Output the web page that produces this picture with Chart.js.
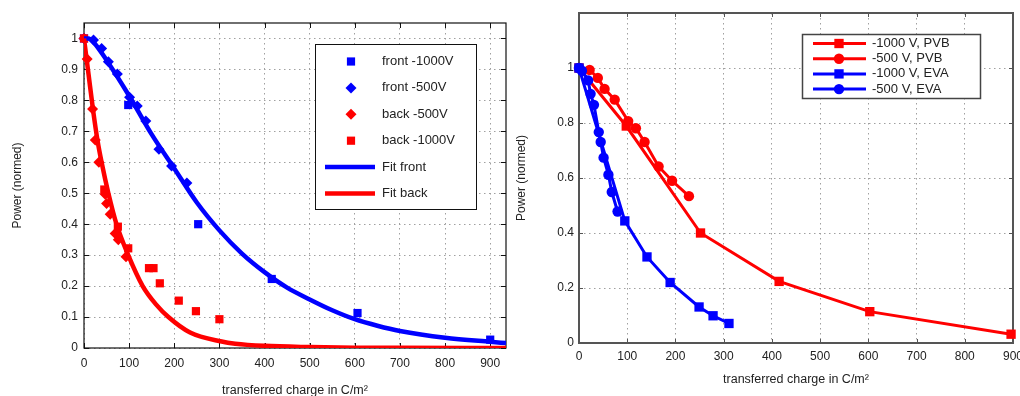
<!DOCTYPE html>
<html>
<head>
<meta charset="utf-8">
<script src="https://cdn.jsdelivr.net/npm/chart.js@4.4.0/dist/chart.umd.min.js"></script>
<style>
  html, body { margin: 0; padding: 0; background: #fff; overflow: hidden; }
  #left { position: absolute; left: 0; top: 0; width: 512px; height: 399px; }
  #right { position: absolute; left: 514px; top: 0; width: 506px; height: 396px; }
</style>
</head>
<body>
<div id="left"><canvas id="leftChart"></canvas></div>
<div id="right"><canvas id="rightChart"></canvas></div>
<script>
/*
 DATA - left plot (measurements + fits)
*/
const frontHvX = [0, 98, 253, 416, 606, 900];
const frontHvY = [1, 0.785, 0.40, 0.223, 0.113, 0.027];

const frontLvX = [0, 21, 39, 54, 74, 101, 118, 137, 166, 194, 228];
const frontLvY = [1, 0.995, 0.968, 0.925, 0.885, 0.81, 0.782, 0.733, 0.642, 0.588, 0.533];

const backLvX = [0, 7, 19, 25, 33, 47, 50, 58, 69, 76, 93];
const backLvY = [1, 0.934, 0.772, 0.672, 0.6, 0.497, 0.467, 0.432, 0.37, 0.35, 0.295];

const backHvX = [0, 45, 75, 98, 144, 154, 168, 210, 248, 300];
const backHvY = [1, 0.512, 0.392, 0.322, 0.258, 0.258, 0.209, 0.153, 0.119, 0.093];

const fitFrontX = [0, 10, 20, 50, 100, 150, 200, 250, 300, 350, 400, 450, 500, 550, 600, 650, 700, 800, 900, 935];
const fitFrontY = [1, 1, 0.99, 0.93, 0.815, 0.69, 0.58, 0.47, 0.38, 0.305, 0.245, 0.195, 0.157, 0.122, 0.093, 0.072, 0.055, 0.033, 0.02, 0.016];

const fitBackX = [0, 10, 20, 30, 39, 54, 72, 98, 130, 160, 187, 235, 305, 335, 400, 500, 600, 700, 935];
const fitBackY = [1, 0.885, 0.77, 0.67, 0.6, 0.5, 0.4, 0.3, 0.2, 0.14, 0.1, 0.05, 0.021, 0.014, 0.007, 0.003, 0.001, 0.0005, 0];

/*
 DATA - right plot (PVB / EVA)
*/
const pvbHvX = [0, 98, 252, 415, 603, 896];
const pvbHvY = [1, 0.789, 0.40, 0.224, 0.114, 0.032];

const pvbLvX = [0, 22, 39, 53, 74, 102, 118, 136, 165, 193, 228];
const pvbLvY = [1, 0.993, 0.964, 0.924, 0.885, 0.807, 0.781, 0.731, 0.642, 0.59, 0.534];

const evaHvX = [0, 95, 141, 189, 249, 278, 311];
const evaHvY = [1, 0.444, 0.313, 0.22, 0.131, 0.099, 0.071];

const evaLvX = [0, 6, 19, 24, 31, 41, 45, 51, 61, 68, 80];
const evaLvY = [1, 0.99, 0.955, 0.906, 0.866, 0.767, 0.731, 0.674, 0.612, 0.549, 0.478];

const leftLabels = ["front -1000V", "front -500V", "back -500V", "back -1000V", "Fit front", "Fit back"];
const rightLabels = ["-1000 V, PVB", "-500 V, PVB", "-1000 V, EVA", "-500 V, EVA"];

const xTitle = "transferred charge in C/m\u00b2";
const yTitle = "Power (normed)";

const RED = "#ff0000";
const BLUE = "#0000ff";
const FONT = "'Liberation Sans', Arial, sans-serif";

function pts(xs, ys) {
  return xs.map((x, i) => ({ x: x, y: ys[i] }));
}

/*
 MARKERS (used by the legend box)
*/
function marker(ctx, style, x, y, r) {
  ctx.beginPath();
  if (style === "rect") {
    const s = r * Math.SQRT1_2;
    ctx.rect(x - s, y - s, 2 * s, 2 * s);
  } else if (style === "rectRot") {
    ctx.moveTo(x, y - r);
    ctx.lineTo(x + r, y);
    ctx.lineTo(x, y + r);
    ctx.lineTo(x - r, y);
    ctx.closePath();
  } else {
    ctx.arc(x, y, r, 0, Math.PI * 2);
  }
  ctx.fill();
}

/*
 FRAME + INNER TICKS
*/
const framePlugin = {
  id: "frame",
  beforeDatasetsDraw(chart, args, o) {
    const { ctx, chartArea: a, scales } = chart;
    ctx.save();
    ctx.strokeStyle = o.color;
    ctx.lineWidth = o.width;
    ctx.strokeRect(a.left, a.top, a.right - a.left, a.bottom - a.top);
    ctx.lineWidth = 1;
    ctx.beginPath();
    scales.x.ticks.forEach(t => {
      const px = Math.round(scales.x.getPixelForValue(t.value)) + 0.5;
      ctx.moveTo(px, a.bottom); ctx.lineTo(px, a.bottom - o.len);
      ctx.moveTo(px, a.top); ctx.lineTo(px, a.top + o.len);
    });
    scales.y.ticks.forEach(t => {
      const py = Math.round(scales.y.getPixelForValue(t.value)) + 0.5;
      ctx.moveTo(a.left, py); ctx.lineTo(a.left + o.len, py);
      ctx.moveTo(a.right, py); ctx.lineTo(a.right - o.len, py);
    });
    ctx.stroke();
    ctx.restore();
  }
};

/*
 LEGEND BOX
*/
const boxLegend = {
  id: "boxLegend",
  afterDraw(chart, args, o) {
    const ctx = chart.ctx;
    ctx.save();
    ctx.fillStyle = "#fff";
    ctx.fillRect(o.x, o.y, o.w, o.h);
    ctx.strokeStyle = o.border;
    ctx.lineWidth = o.borderWidth;
    ctx.strokeRect(o.x + 0.5, o.y + 0.5, o.w, o.h);
    ctx.font = o.font;
    ctx.textBaseline = "middle";
    chart.data.datasets.forEach((ds, i) => {
      const y = o.y + o.first + i * o.row;
      if (ds.showLine) {
        ctx.strokeStyle = ds.borderColor;
        ctx.lineWidth = ds.borderWidth;
        ctx.beginPath();
        ctx.moveTo(o.lineX0, y);
        ctx.lineTo(o.lineX1, y);
        ctx.stroke();
      }
      if (ds.pointRadius > 0) {
        ctx.fillStyle = ds.backgroundColor;
        marker(ctx, ds.pointStyle, o.markX, y, ds.pointRadius);
      }
      ctx.fillStyle = "#222";
      ctx.fillText(ds.label, o.textX, y);
    });
    ctx.restore();
  }
};

function fixBox(w, h) {
  return function (scale) {
    if (w != null) scale.width = w;
    if (h != null) scale.height = h;
    scale.paddingLeft = 0;
    scale.paddingRight = 0;
    scale.paddingTop = 0;
    scale.paddingBottom = 0;
  };
}

/*
 LEFT CHART
*/
function renderLeftChart() {
  const ctx = document.getElementById("leftChart").getContext("2d");
  const scatter = (label, xs, ys, color, style, r, order) => ({
    label, data: pts(xs, ys), showLine: false, pointStyle: style, pointRadius: r,
    backgroundColor: color, borderColor: color, borderWidth: 0, clip: false, order
  });
  const fit = (label, xs, ys, color, order) => ({
    label, data: pts(xs, ys), showLine: true, pointRadius: 0, borderColor: color,
    backgroundColor: color, borderWidth: 4.5, cubicInterpolationMode: "monotone", order
  });

  new Chart(ctx, {
    type: "scatter",
    data: {
      datasets: [
        scatter(leftLabels[0], frontHvX, frontHvY, BLUE, "rect", 5.8, 5),
        scatter(leftLabels[1], frontLvX, frontLvY, BLUE, "rectRot", 5.5, 4),
        scatter(leftLabels[2], backLvX, backLvY, RED, "rectRot", 5.5, 3),
        scatter(leftLabels[3], backHvX, backHvY, RED, "rect", 5.8, 2),
        fit(leftLabels[4], fitFrontX, fitFrontY, BLUE, 1),
        fit(leftLabels[5], fitBackX, fitBackY, RED, 0)
      ]
    },
    options: {
      responsive: true,
      maintainAspectRatio: false,
      animation: false,
      layout: { padding: { left: 0, top: 23, right: 6, bottom: 0 } },
      plugins: {
        legend: { display: false },
        tooltip: { enabled: false },
        frame: { color: "#111", width: 1.2, len: 5 },
        boxLegend: {
          x: 315, y: 44, w: 161, h: 165, border: "#111", borderWidth: 1,
          first: 17.5, row: 26.4, lineX0: 325, lineX1: 375, markX: 351, textX: 382,
          font: "13px " + FONT
        }
      },
      scales: {
        x: {
          type: "linear", min: 0, max: 935,
          afterFit: fixBox(null, 51),
          border: { display: false, dash: [1.5, 3.5] },
          grid: { color: "#a0a0a0", drawTicks: false, lineWidth: 1 },
          ticks: { stepSize: 100, includeBounds: false, padding: 8, color: "#222", font: { family: FONT, size: 12 } },
          title: { display: true, text: xTitle, color: "#222", padding: { top: 0, bottom: 0.5 }, font: { family: FONT, size: 12.5 } }
        },
        y: {
          type: "linear", min: 0, max: 1.05,
          afterFit: fixBox(84, null),
          border: { display: false, dash: [1.5, 3.5] },
          grid: { color: "#a0a0a0", drawTicks: false, lineWidth: 1 },
          ticks: {
            stepSize: 0.1, includeBounds: false, padding: 6, color: "#222", font: { family: FONT, size: 12 },
            callback: v => String(Math.round(v * 10) / 10)
          },
          title: { display: true, text: yTitle, color: "#222", padding: { top: 10, bottom: 0 }, font: { family: FONT, size: 12 } }
        }
      }
    },
    plugins: [framePlugin, boxLegend]
  });
}

/*
 RIGHT CHART
*/
function renderRightChart() {
  const ctx = document.getElementById("rightChart").getContext("2d");
  const series = (label, xs, ys, color, style, r, order) => ({
    label, data: pts(xs, ys), showLine: true, pointStyle: style, pointRadius: r,
    backgroundColor: color, borderColor: color, borderWidth: 3, pointBorderWidth: 0,
    tension: 0, clip: false, order
  });

  new Chart(ctx, {
    type: "scatter",
    data: {
      datasets: [
        series(rightLabels[0], pvbHvX, pvbHvY, RED, "rect", 6.6, 3),
        series(rightLabels[1], pvbLvX, pvbLvY, RED, "circle", 5.2, 2),
        series(rightLabels[2], evaHvX, evaHvY, BLUE, "rect", 6.6, 1),
        series(rightLabels[3], evaLvX, evaLvY, BLUE, "circle", 5.2, 0)
      ]
    },
    options: {
      responsive: true,
      maintainAspectRatio: false,
      animation: false,
      layout: { padding: { left: 0, top: 13, right: 7, bottom: 0 } },
      plugins: {
        legend: { display: false },
        tooltip: { enabled: false },
        frame: { color: "#555", width: 2, len: 4 },
        boxLegend: {
          x: 288, y: 34, w: 178, h: 64, border: "#444", borderWidth: 1.5,
          first: 9.5, row: 15.2, lineX0: 299, lineX1: 352, markX: 325, textX: 358,
          font: "13px " + FONT
        }
      },
      scales: {
        x: {
          type: "linear", min: 0, max: 900,
          afterFit: fixBox(null, 53),
          border: { display: false, dash: [1.5, 3.5] },
          grid: { color: "#a0a0a0", drawTicks: false, lineWidth: 1 },
          ticks: { stepSize: 100, padding: 6, color: "#222", font: { family: FONT, size: 12 } },
          title: { display: true, text: xTitle, color: "#222", padding: { top: 0, bottom: 8.5 }, font: { family: FONT, size: 12.5 } }
        },
        y: {
          type: "linear", min: 0, max: 1.2,
          afterFit: fixBox(65, null),
          border: { display: false, dash: [1.5, 3.5] },
          grid: { color: "#a0a0a0", drawTicks: false, lineWidth: 1 },
          ticks: {
            stepSize: 0.2, padding: 5, color: "#222", font: { family: FONT, size: 12 },
            callback: v => (v > 1.1 ? "" : String(Math.round(v * 10) / 10))
          },
          title: { display: true, text: yTitle, color: "#222", padding: { top: 0, bottom: 0 }, font: { family: FONT, size: 12 } }
        }
      }
    },
    plugins: [framePlugin, boxLegend]
  });
}

/*
 INIT
*/
renderLeftChart();
renderRightChart();
</script>
</body>
</html>
